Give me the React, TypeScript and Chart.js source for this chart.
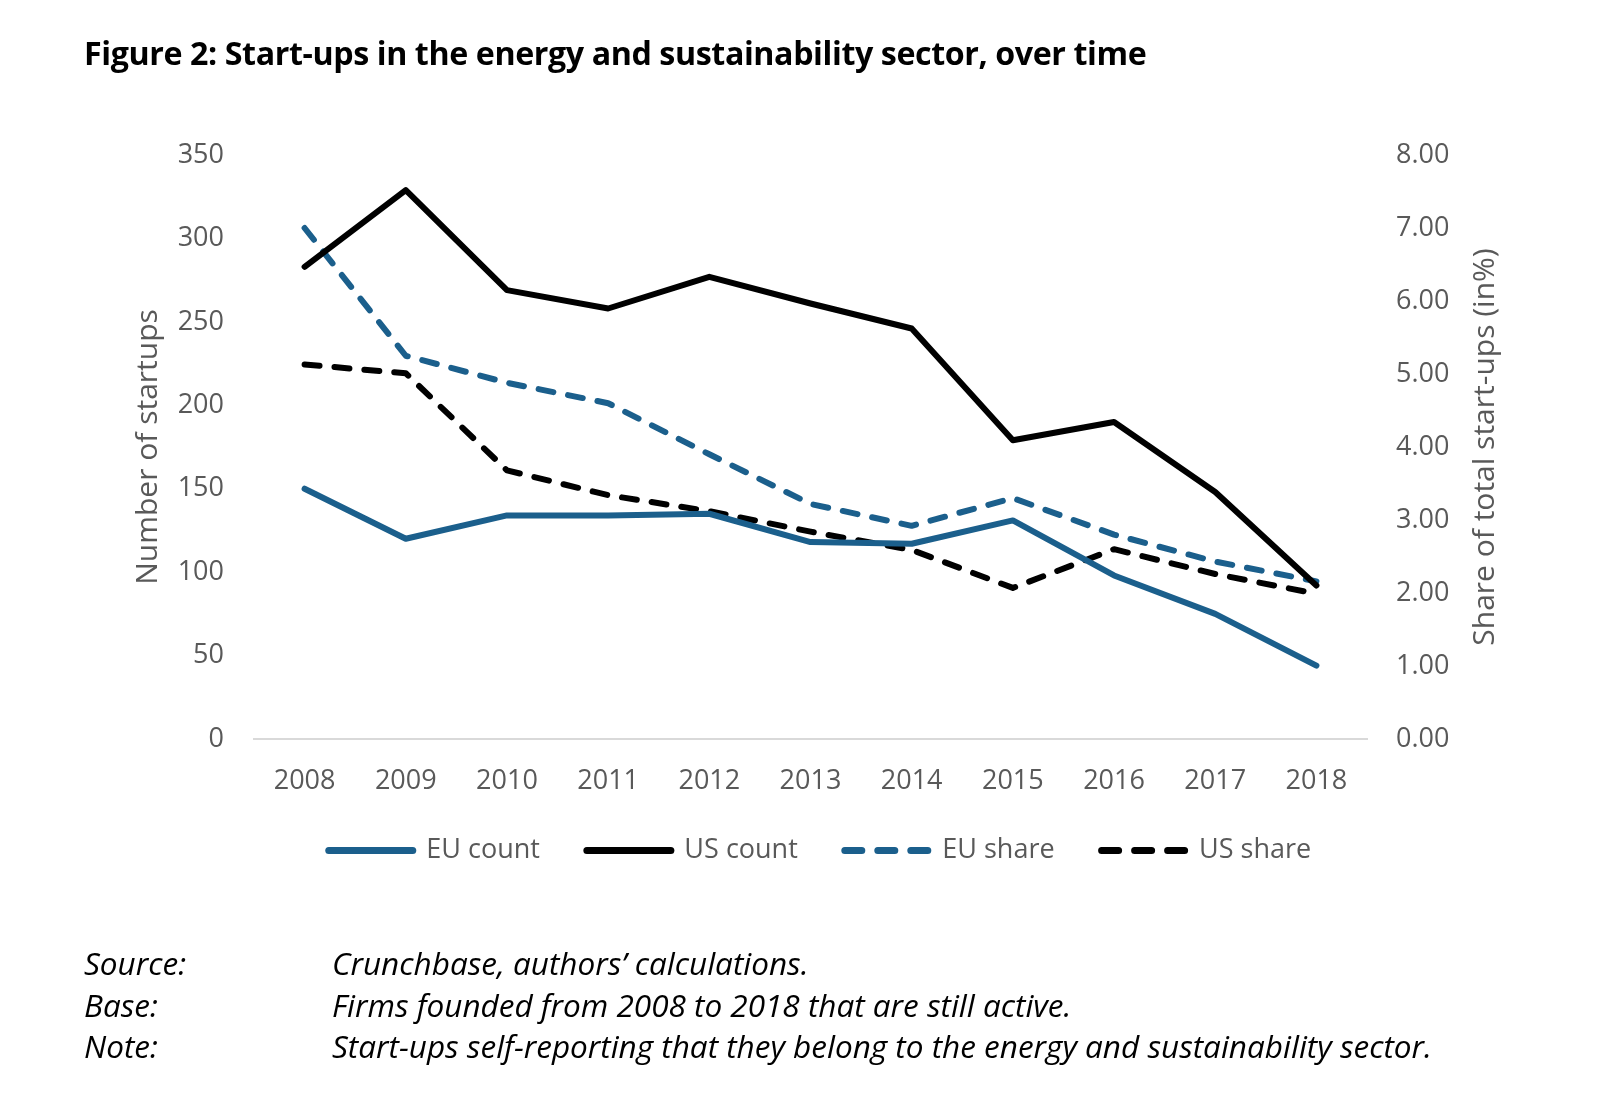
import React, { useEffect, useRef } from "react";
import { Chart, registerables } from "chart.js";

Chart.register(...registerables);

const years = ["2008", "2009", "2010", "2011", "2012", "2013", "2014", "2015", "2016", "2017", "2018"];
const euCount = [150, 120, 134, 134, 135, 118, 117, 131, 98, 75, 44];
const usCount = [283, 329, 269, 258, 277, 261, 246, 179, 190, 148, 92];
const euShare = [7.0, 5.25, 4.88, 4.6, 3.9, 3.22, 2.92, 3.3, 2.8, 2.43, 2.16];
const usShare = [5.13, 5.01, 3.68, 3.34, 3.12, 2.84, 2.59, 2.07, 2.6, 2.26, 1.99];
const leftTicks = [0, 50, 100, 150, 200, 250, 300, 350];
const rightTicks = [0, 1, 2, 3, 4, 5, 6, 7, 8];
const leftTitle = "Number of startups";
const rightTitle = "Share of total start-ups (in%)";

const BLUE = "#1B5F8C";
const BLACK = "#000000";
const GREY = "#595959";
const FONT = "'Open Sans', 'DejaVu Sans', sans-serif";

const layoutPlugin = {
  id: "customLayout",
  afterLayout(chart: any) {
    const lg = chart.legend;
    if (lg) {
      lg.top -= 9;
      lg.bottom -= 9;
      lg.left += 20;
      lg.right += 20;
    }
  },
  afterDraw(chart: any) {
    const { ctx, chartArea } = chart;
    ctx.save();
    ctx.translate(1485, (chartArea.top + chartArea.bottom) / 2);
    ctx.rotate(-Math.PI / 2);
    ctx.font = `30px ${FONT}`;
    ctx.fillStyle = GREY;
    ctx.textAlign = "center";
    ctx.textBaseline = "middle";
    ctx.fillText(rightTitle, 0, 0);
    ctx.restore();
  },
};

export default function App() {
  const ref = useRef<HTMLCanvasElement | null>(null);

  useEffect(() => {
    if (!ref.current) return;
    const common = { borderWidth: 6, pointRadius: 0, borderCapStyle: "round", borderJoinStyle: "round", tension: 0 } as any;
    const chart = new Chart(ref.current, {
      type: "line",
      data: {
        labels: years,
        datasets: [
          { label: "EU count", data: euCount, yAxisID: "y", borderColor: BLUE, backgroundColor: BLUE, ...common },
          { label: "US count", data: usCount, yAxisID: "y", borderColor: BLACK, backgroundColor: BLACK, ...common },
          { label: "EU share", data: euShare, yAxisID: "y1", borderColor: BLUE, backgroundColor: BLUE, borderDash: [15, 15], ...common },
          { label: "US share", data: usShare, yAxisID: "y1", borderColor: BLACK, backgroundColor: BLACK, borderDash: [15, 15], ...common },
        ],
      },
      plugins: [layoutPlugin],
      options: {
        responsive: false,
        animation: false,
        devicePixelRatio: 1,
        layout: { padding: { top: 155, left: 0, right: 0, bottom: 117 } },
        plugins: {
          tooltip: { enabled: false },
          legend: {
            position: "bottom",
            labels: {
              usePointStyle: true,
              pointStyleWidth: 84,
              boxHeight: 10,
              padding: 47,
              color: GREY,
              font: { family: FONT, size: 27 },
              generateLabels: (ch: any) =>
                ch.data.datasets.map((ds: any, i: number) => ({
                  text: ds.label,
                  fillStyle: ds.borderColor,
                  strokeStyle: ds.borderColor,
                  lineWidth: 7,
                  lineDash: ds.borderDash ? [17, 16] : [],
                  lineCap: "round",
                  pointStyle: "line",
                  fontColor: GREY,
                  hidden: false,
                  datasetIndex: i,
                })),
            },
          },
        },
        scales: {
          x: {
            type: "category",
            offset: true,
            grid: { display: false, drawTicks: false },
            border: { display: true, color: "#D9D9D9", width: 2 },
            ticks: { color: GREY, font: { family: FONT, size: 27 }, padding: 26, maxRotation: 0 },
            afterFit: (s: any) => { s.height = 60; },
          },
          y: {
            type: "linear",
            position: "left",
            min: 0,
            max: 350,
            afterBuildTicks: (s: any) => { s.ticks = leftTicks.map((v) => ({ value: v })); },
            ticks: { color: GREY, font: { family: FONT, size: 27 }, padding: 30, callback: (v: any) => String(v) },
            grid: { display: false, drawTicks: false },
            border: { display: false },
            title: { display: true, text: leftTitle, color: GREY, font: { family: FONT, size: 30 }, padding: { top: 130, bottom: 0 } },
            afterFit: (s: any) => { s.width = 254; },
          },
          y1: {
            type: "linear",
            position: "right",
            min: 0,
            max: 8,
            afterBuildTicks: (s: any) => { s.ticks = rightTicks.map((v) => ({ value: v })); },
            ticks: { color: GREY, font: { family: FONT, size: 27 }, padding: 29, callback: (v: any) => Number(v).toFixed(2) },
            grid: { display: false, drawTicks: false },
            border: { display: false },
            title: { display: false },
            afterFit: (s: any) => { s.width = 233; },
          },
        },
      },
    });
    return () => chart.destroy();
  }, []);

  const noteLabel: React.CSSProperties = { position: "absolute", left: 84, fontFamily: FONT, fontStyle: "italic", fontSize: 31.5, color: "#000", whiteSpace: "nowrap", lineHeight: "38px" };
  const noteText: React.CSSProperties = { ...noteLabel, left: 332 };

  return (
    <div style={{ position: "absolute", left: 0, top: 0, width: 1600, height: 1109, background: "#fff", overflow: "hidden" }}>
      <canvas ref={ref} width={1600} height={1000} style={{ position: "absolute", left: 0, top: 0, width: 1600, height: 1000 }} />
      <div style={{ position: "absolute", left: 84, top: 33, fontFamily: FONT, fontWeight: 700, fontSize: 32.2, lineHeight: "40px", color: "#000", whiteSpace: "nowrap", letterSpacing: "-0.4px" }}>
        Figure 2: Start-ups in the energy and sustainability sector, over time
      </div>
      <div style={{ ...noteLabel, top: 944 }}>Source:</div>
      <div style={{ ...noteText, top: 944 }}>Crunchbase, authors’ calculations.</div>
      <div style={{ ...noteLabel, top: 986 }}>Base:</div>
      <div style={{ ...noteText, top: 986 }}>Firms founded from 2008 to 2018 that are still active.</div>
      <div style={{ ...noteLabel, top: 1027 }}>Note:</div>
      <div style={{ ...noteText, top: 1027 }}>Start-ups self-reporting that they belong to the energy and sustainability sector.</div>
    </div>
  );
}
